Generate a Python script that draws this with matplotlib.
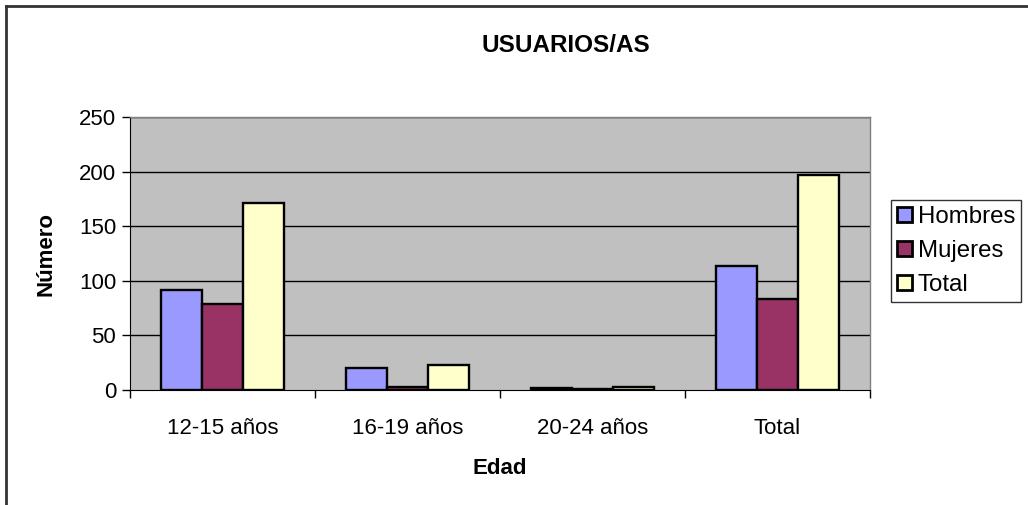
import matplotlib
matplotlib.use("Agg")
import matplotlib.pyplot as plt
from matplotlib.lines import Line2D
import numpy as np

categories = ["12-15 años", "16-19 años", "20-24 años", "Total"]
series_names = ["Hombres", "Mujeres", "Total"]
hombres = [92, 20, 2, 114]
mujeres = [79, 3, 1, 83]
total = [171, 23, 3, 197]
yticks = [0, 50, 100, 150, 200, 250]
colors = ["#9999FF", "#993366", "#FFFFCC"]

plt.rcParams['font.family'] = ['Liberation Sans', 'DejaVu Sans']

W, H = 1028, 505
fig = plt.figure(figsize=(W / 100, H / 100), dpi=100)
fig.patch.set_facecolor("white")

ax = fig.add_axes([130 / W, 1 - 390 / H, 740 / W, 273 / H])
ax.set_facecolor("#C0C0C0")

x = np.arange(len(categories))
bw = 1 / 4.5
for i, (vals, name, c) in enumerate(zip([hombres, mujeres, total], series_names, colors)):
    ax.bar(x + (i - 1) * bw, vals, width=bw, color=c, edgecolor="black",
           linewidth=1.7, label=name, zorder=3)

ax.set_xlim(-0.5, len(categories) - 0.5)
ax.set_ylim(0, 250)
ax.set_yticks(yticks)
ax.set_yticklabels([str(v) for v in yticks], fontsize=16)
for v in yticks[1:]:
    ax.axhline(v, color="black", linewidth=1.0, zorder=1)

ax.set_xticks(x)
ax.set_xticklabels(categories, fontsize=16)
ax.tick_params(axis="x", which="major", length=0, pad=20)
ax.set_xticks(np.arange(-0.5, len(categories), 1.0), minor=True)
ax.tick_params(axis="x", which="minor", length=6, direction="out", color="black", width=1)
ax.tick_params(axis="y", length=6, direction="out", color="black", width=1, pad=4)

for s in ["top", "right"]:
    ax.spines[s].set_color("#808080")
    ax.spines[s].set_linewidth(1)
ax.spines["left"].set_color("black")
ax.spines["bottom"].set_color("black")

ax.set_xlabel("Edad", fontsize=16, fontweight="bold", labelpad=14)
ax.set_ylabel("Número", fontsize=16, fontweight="bold", labelpad=16)

fig.text(566 / W, 1 - 45 / H, "USUARIOS/AS", ha="center", va="center",
         fontsize=17.5, fontweight="bold")

leg = ax.legend(loc="upper left", bbox_to_anchor=(891 / W, 1 - 200 / H),
                bbox_transform=fig.transFigure, borderaxespad=0,
                fontsize=17.3, frameon=True, fancybox=False, handlelength=0.62,
                handleheight=0.62, handletextpad=0.25, labelspacing=0.5,
                borderpad=0.25)
leg.get_frame().set_edgecolor("black")
leg.get_frame().set_linewidth(1)
for p in leg.get_patches():
    p.set_linewidth(2)

# outer chart frame
fig.add_artist(Line2D([6 / W, 1], [1 - 6 / H, 1 - 6 / H], transform=fig.transFigure,
                      color="#333333", linewidth=2))
fig.add_artist(Line2D([6 / W, 6 / W], [0, 1 - 6 / H], transform=fig.transFigure,
                      color="#333333", linewidth=2))

fig.savefig("out.png", dpi=100)
